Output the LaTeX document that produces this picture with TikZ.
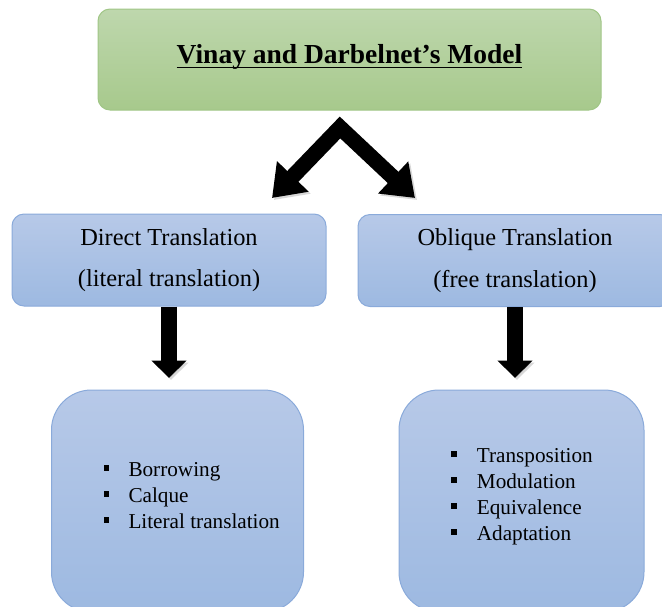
\documentclass[tikz,border=0pt]{standalone}
\usepackage{fontspec}
\setmainfont{Liberation Serif}
\usetikzlibrary{arrows.meta, positioning}

\definecolor{titletop}{RGB}{190,215,173}
\definecolor{titlebot}{RGB}{167,201,140}
\definecolor{titleline}{RGB}{160,198,134}
\definecolor{boxtop}{RGB}{183,201,232}
\definecolor{boxbot}{RGB}{157,185,225}
\definecolor{boxline}{RGB}{138,170,218}

\newcommand{\listmark}{\rule[6pt]{5.7pt}{5.7pt}}
% heading text with a rule just under the baseline
\newcommand{\barunder}[1]{\setbox0\hbox{#1}\rlap{\rule[-5pt]{\wd0}{1.6pt}}\box0}

\begin{document}
\begin{tikzpicture}[
    x=1pt, y=-1pt,
    titlebox/.style={rectangle, draw=titleline, line width=1pt, rounded corners=12pt, top color=titletop, bottom color=titlebot, minimum width=503pt, minimum height=101pt, text height=19pt, text depth=11.5pt, font=\fontsize{27.5}{33}\selectfont\bfseries},
    stagebox/.style={rectangle, draw=boxline, line width=1pt, rounded corners=12pt, top color=boxtop, bottom color=boxbot, minimum width=314pt, minimum height=92pt, align=center, font=\fontsize{24.4}{41.6}\selectfont},
    listbox/.style={rectangle, draw=boxline, line width=1pt, rounded corners=40pt, top color=boxtop, bottom color=boxbot, minimum height=222pt},
    itemlist/.style={inner sep=0pt, anchor=west, font=\fontsize{21.2}{26}\selectfont},
    splitarrow/.style={line width=15.5pt, line join=miter, arrows={Triangle[length=30pt,width=42pt]-Triangle[length=30pt,width=42pt]}, preaction={draw=black!30, opacity=0.5, transform canvas={shift={(2pt,-2pt)}}}},
    droparrow/.style={line width=16.5pt, arrows={-Triangle[length=17.5pt,width=34pt]}, shorten >=11.5pt, preaction={draw=black!30, opacity=0.5, transform canvas={shift={(2pt,-2pt)}}}}
]
\useasboundingbox (0,0) rectangle (662,606);
\clip (0,0) rectangle (662,606);

% Nodes
\node[titlebox] (model) at (349.5,59.5) {\barunder{Vinay and Darbelnet's Model}};
\node[stagebox] (direct) at (169,260) {Direct Translation\\(literal translation)};
\node[stagebox] (oblique) at (515,260.5) {Oblique Translation\\(free translation)};
\node[listbox, minimum width=252pt] (directlist) at (177.5,501) {};
\node[listbox, minimum width=245pt] (obliquelist) at (521.5,501) {};

\node[itemlist] (directitems) at (103.3,497.5) {\begin{tabular}{@{}l@{\hspace{19.3pt}}l@{}}
\listmark & Borrowing\\
\listmark & Calque\\
\listmark & Literal translation
\end{tabular}};
\node[itemlist] (obliqueitems) at (451,496.5) {\begin{tabular}{@{}l@{\hspace{20pt}}l@{}}
\listmark & Transposition\\
\listmark & Modulation\\
\listmark & Equivalence\\
\listmark & Adaptation
\end{tabular}};

% Arrows
\coordinate (split) at (340,127.5);
\coordinate (directin) at (272,198);
\coordinate (obliquein) at (415,198);
\draw[splitarrow] (directin) -- (split) -- (obliquein);
\draw[droparrow] (direct.south) -- (direct.south |- directlist.north);
\draw[droparrow] (oblique.south) -- (oblique.south |- obliquelist.north);

\end{tikzpicture}
\end{document}
